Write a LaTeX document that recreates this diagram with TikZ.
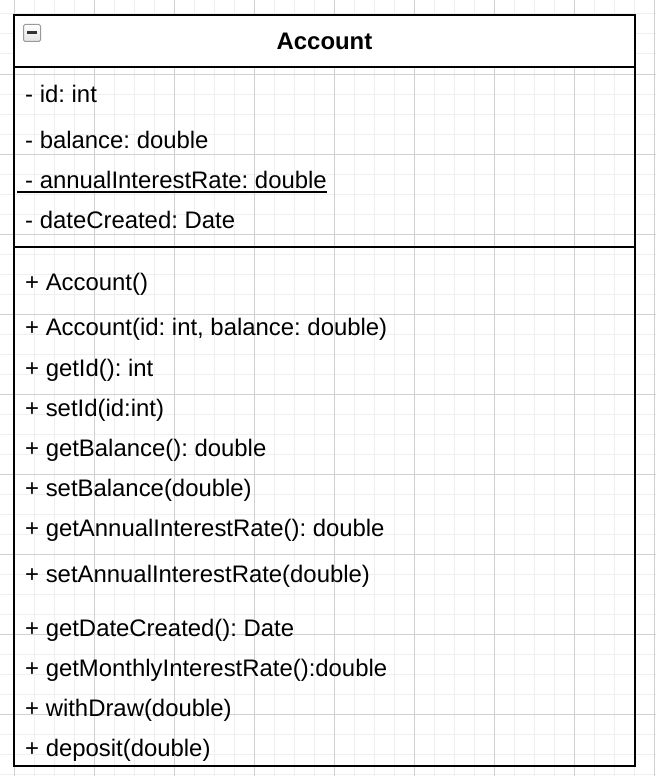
\documentclass[tikz,border=0pt]{standalone}
\usepackage{fontspec}
\setmainfont{Liberation Sans}
\frenchspacing
\definecolor{gridminor}{HTML}{EFEFEF}
\definecolor{gridmajor}{HTML}{D0D0D0}
\definecolor{iconborder}{HTML}{9A9A9A}
\definecolor{iconfill}{HTML}{E4E4E4}
\definecolor{iconbar}{HTML}{333333}
\tikzset{
  member/.style={anchor=base west, inner sep=0pt, text=black,
    font=\fontsize{23.9}{28}\selectfont},
  classtitle/.style={anchor=base, inner sep=0pt, text=black,
    font=\fontsize{23.9}{28}\selectfont\bfseries},
  border/.style={line width=2pt, draw=black},
  minorgrid/.style={draw=gridminor, line width=1pt},
  majorgrid/.style={draw=gridmajor, line width=1pt},
}
\begin{document}
\begin{tikzpicture}[x=1pt, y=-1pt]
\useasboundingbox (0,0) rectangle (656,776);
\fill[white] (0,0) rectangle (656,776);
% grid
\foreach \gx in {14,34,...,654} \draw[minorgrid] (\gx,0) -- (\gx,776);
\foreach \gy in {14,34,...,774} \draw[minorgrid] (0,\gy) -- (656,\gy);
\foreach \gx in {14,94,...,654} \draw[majorgrid] (\gx,0) -- (\gx,776);
\foreach \gy in {74,154,...,714} \draw[majorgrid] (0,\gy) -- (656,\gy);
% header fill
\fill[white] (14,15) rectangle (635,67);
% collapse icon
\draw[iconborder, line width=1pt, rounded corners=1.5pt, top color=white, bottom color=iconfill] (23.5,24.5) rectangle (40.5,41.5);
\fill[iconbar] (27,31.5) rectangle (37,34.5);
% title
\node[classtitle] (title) at (324.5,50) {Account};
% attributes
\node[member] (id) at (25,102) {- id: int};
\node[member] (balance) at (25,148) {- balance: double};
\node[member] (annual) at (25,188) {- annualInterestRate: double};
\node[member] (date) at (25,228) {- dateCreated: Date};
\draw[line width=1.5pt] ([shift={(-8pt,-4pt)}]annual.base west) -- ([shift={(0pt,-4pt)}]annual.base east);
% operations
\node[member] (m1) at (25,290) {+ Account()};
\node[member] (m2) at (25,335) {+ Account(id: int, balance: double)};
\node[member] (m3) at (25,376) {+ getId(): int};
\node[member] (m4) at (25,416) {+ setId(id:int)};
\node[member] (m5) at (25,456) {+ getBalance(): double};
\node[member] (m6) at (25,496) {+ setBalance(double)};
\node[member] (m7) at (25,536) {+ getAnnualInterestRate(): double};
\node[member] (m8) at (25,582) {+ setAnnualInterestRate(double)};
\node[member] (m9) at (25,636) {+ getDateCreated(): Date};
\node[member] (m10) at (25,676) {+ getMonthlyInterestRate():double};
\node[member] (m11) at (25,716) {+ withDraw(double)};
\node[member] (m12) at (25,756) {+ deposit(double)};
% box
\draw[border] (14,67) -- (635,67);
\draw[border] (14,247) -- (635,247);
\draw[border] (14,15) rectangle (635,766);
\end{tikzpicture}
\end{document}
